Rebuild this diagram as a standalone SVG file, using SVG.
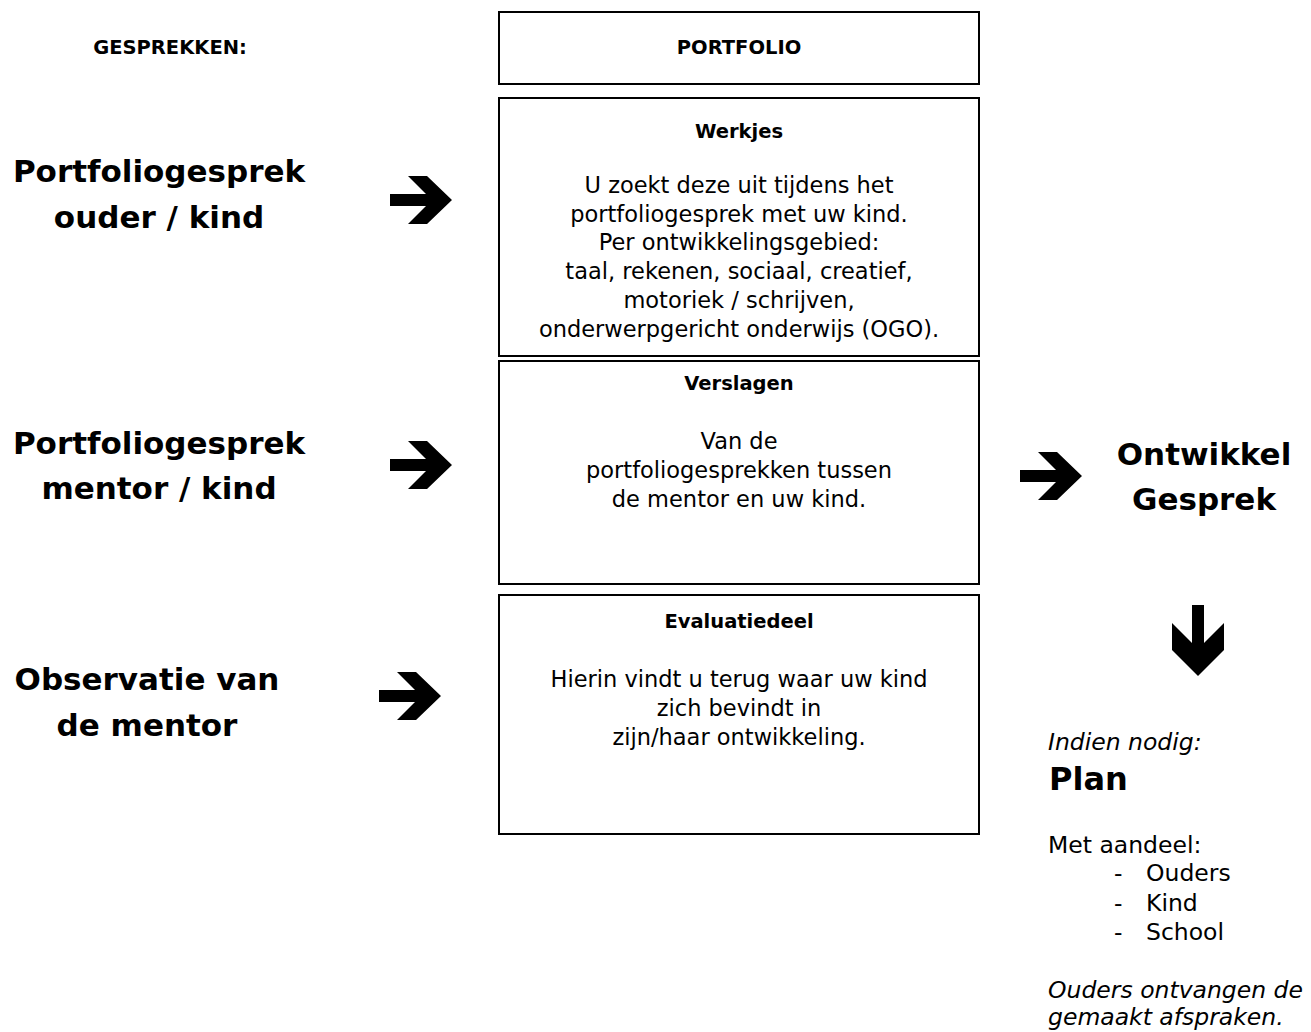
<svg xmlns="http://www.w3.org/2000/svg" width="1311" height="1032" viewBox="0 0 1311 1032">
<style>
  text { font-family: "DejaVu Sans", "Liberation Sans", sans-serif; fill: #000; }
  .box { fill: #fff; stroke: #000; stroke-width: 2; }
  .hdr { font-weight: bold; font-size: 19.5px; text-anchor: middle; }
  .body { font-size: 22.5px; text-anchor: middle; }
  .big { font-weight: bold; font-size: 31px; text-anchor: middle; }
  .plain { font-size: 23.5px; }
  .it { font-size: 23.5px; font-style: italic; }
  .arrow { fill: #000; }
</style>
<defs>
  <path id="rarrow" d="M-62,-6 L-26,-6 L-44,-24 L-25,-24 L0,0 L-25,24 L-44,24 L-26,6 L-62,6 Z"/>
</defs>

<g id="header-gesprekken">
  <text class="hdr" x="170" y="54">GESPREKKEN:</text>
</g>

<g id="portfolio">
  <rect class="box" x="499" y="12" width="480" height="72"/>
  <text class="hdr" x="739" y="54">PORTFOLIO</text>
</g>

<g id="werkjes">
  <rect class="box" x="499" y="98" width="480" height="258"/>
  <text class="hdr" x="739" y="138">Werkjes</text>
  <text class="body" x="739" y="193">U zoekt deze uit tijdens het</text>
  <text class="body" x="739" y="222">portfoliogesprek met uw kind.</text>
  <text class="body" x="739" y="250">Per ontwikkelingsgebied:</text>
  <text class="body" x="739" y="279">taal, rekenen, sociaal, creatief,</text>
  <text class="body" x="739" y="308">motoriek / schrijven,</text>
  <text class="body" x="739" y="337">onderwerpgericht onderwijs (OGO).</text>
</g>

<g id="verslagen">
  <rect class="box" x="499" y="361" width="480" height="223"/>
  <text class="hdr" x="739" y="390">Verslagen</text>
  <text class="body" x="739" y="449">Van de</text>
  <text class="body" x="739" y="478">portfoliogesprekken tussen</text>
  <text class="body" x="739" y="507">de mentor en uw kind.</text>
</g>

<g id="evaluatiedeel">
  <rect class="box" x="499" y="595" width="480" height="239"/>
  <text class="hdr" x="739" y="628">Evaluatiedeel</text>
  <text class="body" x="739" y="687">Hierin vindt u terug waar uw kind</text>
  <text class="body" x="739" y="716">zich bevindt in</text>
  <text class="body" x="739" y="745">zijn/haar ontwikkeling.</text>
</g>

<g id="gesprek-ouder-kind">
  <text class="big" x="159" y="182">Portfoliogesprek</text>
  <text class="big" x="159" y="228">ouder / kind</text>
</g>

<g id="gesprek-mentor-kind">
  <text class="big" x="159" y="454">Portfoliogesprek</text>
  <text class="big" x="159" y="499">mentor / kind</text>
</g>

<g id="observatie">
  <text class="big" x="147" y="690">Observatie van</text>
  <text class="big" x="147" y="736">de mentor</text>
</g>

<g id="ontwikkelgesprek">
  <text class="big" x="1204" y="465">Ontwikkel</text>
  <text class="big" x="1204" y="510">Gesprek</text>
</g>

<g id="plan">
  <text class="it" x="1048" y="750">Indien nodig:</text>
  <text x="1049" y="790" style="font-weight:bold;font-size:32px">Plan</text>
  <text class="plain" x="1048" y="853">Met aandeel:</text>
  <text class="plain" x="1114" y="881">-</text>
  <text class="plain" x="1146" y="881">Ouders</text>
  <text class="plain" x="1114" y="911">-</text>
  <text class="plain" x="1146" y="911">Kind</text>
  <text class="plain" x="1114" y="940">-</text>
  <text class="plain" x="1146" y="940">School</text>
  <text class="it" x="1048" y="998">Ouders ontvangen de</text>
  <text class="it" x="1048" y="1025">gemaakt afspraken.</text>
</g>

<g id="connectors">
  <use href="#rarrow" class="arrow" x="452" y="200"/>
  <use href="#rarrow" class="arrow" x="452" y="465"/>
  <use href="#rarrow" class="arrow" x="441" y="696"/>
  <use href="#rarrow" class="arrow" x="1082" y="476"/>
  <path class="arrow" d="M1192,605 L1204,605 L1204,643 L1224,623 L1224,650 L1198,676 L1172,650 L1172,623 L1192,643 Z"/>
</g>
</svg>
